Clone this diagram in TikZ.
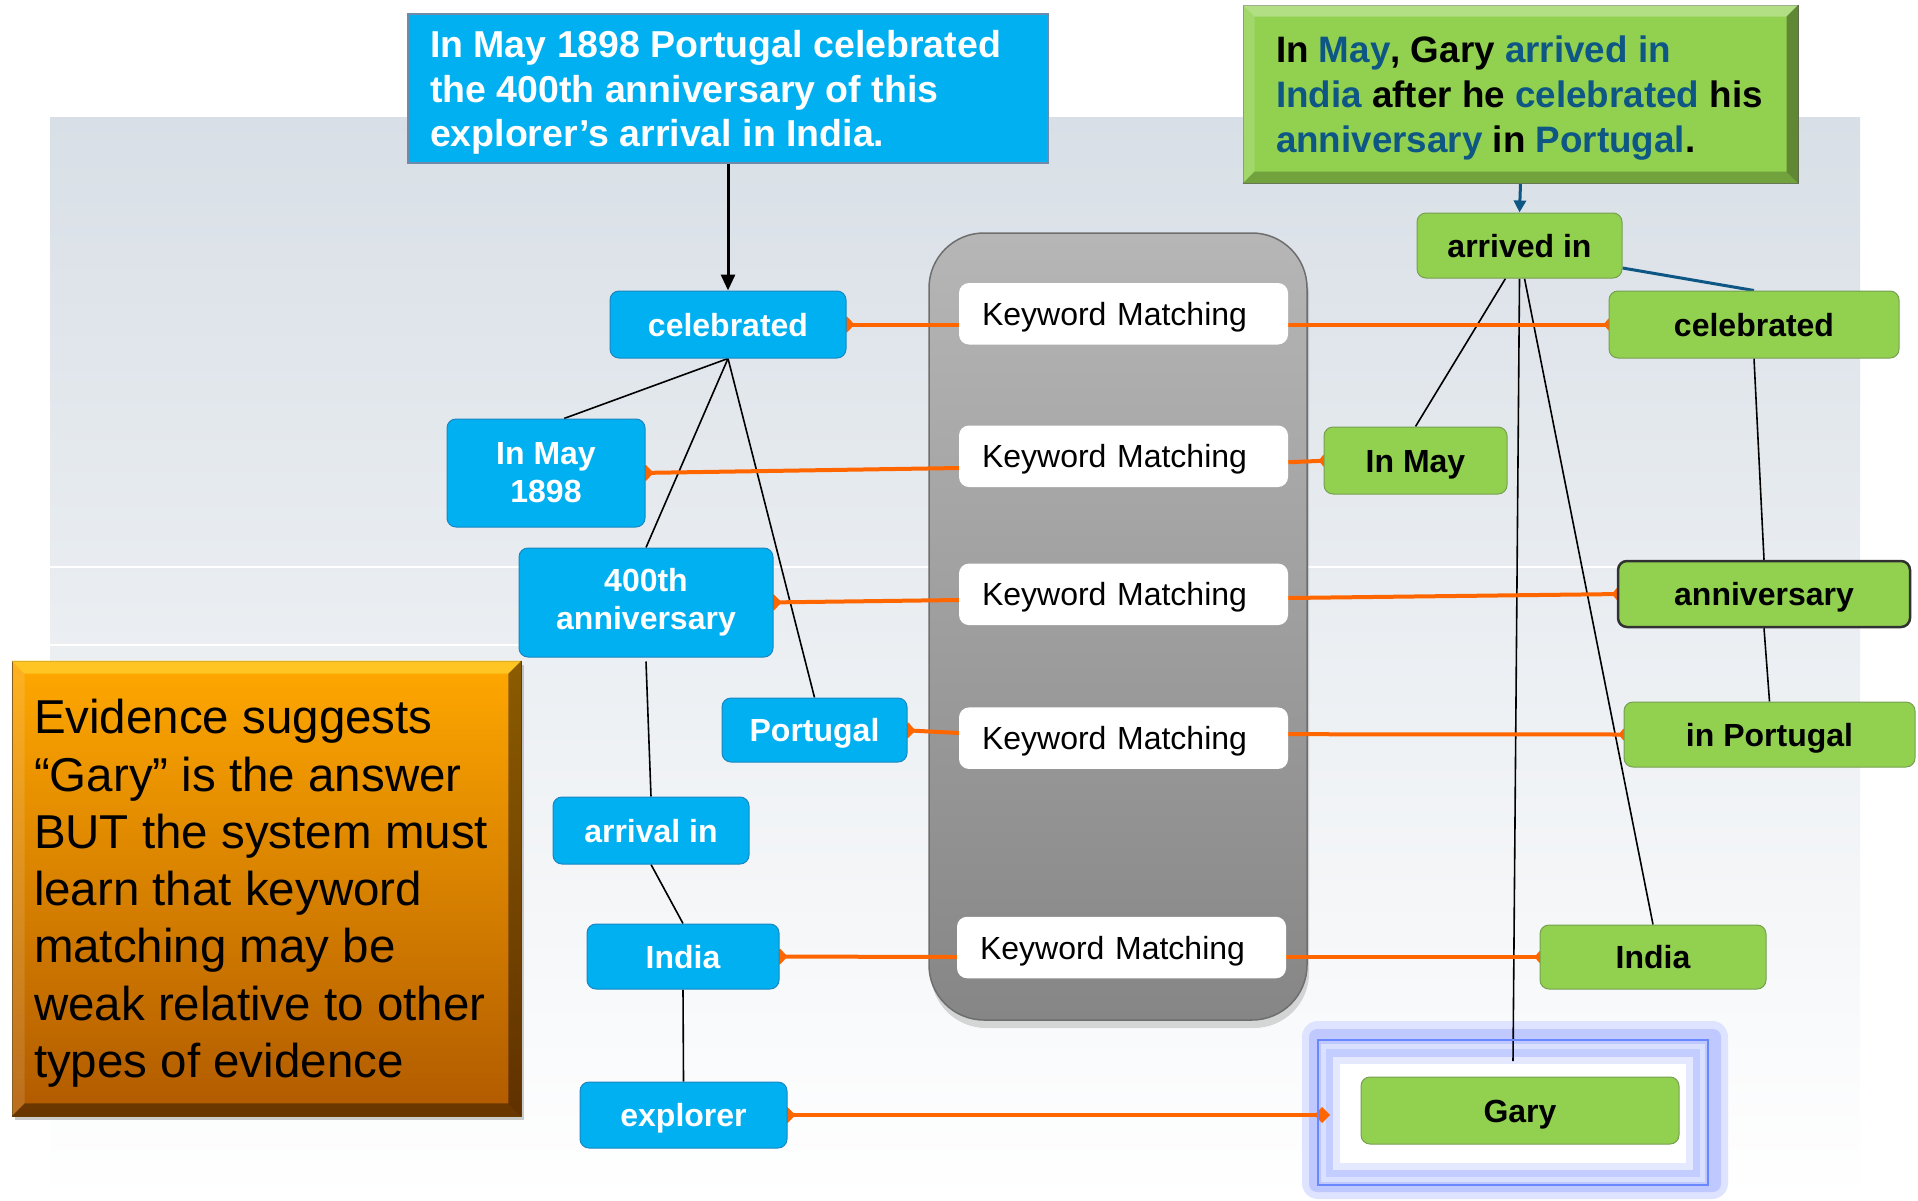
\documentclass[tikz,border=0pt]{standalone}
\usepackage{fontspec}
\setmainfont{Liberation Sans}
\usetikzlibrary{arrows.meta,calc,shadows}
\pgfdeclarelayer{back}
\pgfdeclarelayer{edges}
\pgfsetlayers{back,edges,main}
\definecolor{nodeblue}{RGB}{0,176,240}
\definecolor{nodeblueline}{RGB}{25,135,195}
\definecolor{nodegreen}{RGB}{146,208,80}
\definecolor{nodegreenline}{RGB}{118,160,80}
\definecolor{darkedge}{RGB}{50,50,50}
\definecolor{linkorange}{RGB}{255,102,0}
\definecolor{kwblue}{RGB}{14,86,132}
\definecolor{panelgray}{RGB}{216,223,230}
\definecolor{panelline}{RGB}{110,110,110}
\definecolor{topboxline}{RGB}{110,140,170}
\definecolor{gtopline}{RGB}{120,140,100}
\definecolor{glowA}{RGB}{222,227,255}
\definecolor{glowB}{RGB}{192,201,255}
\definecolor{glowC}{RGB}{218,224,255}
\definecolor{glowD}{RGB}{196,205,255}
\definecolor{glowE}{RGB}{228,233,255}
\definecolor{glowline}{RGB}{105,135,255}
\definecolor{orangetop}{RGB}{255,168,0}
\definecolor{orangebot}{RGB}{176,90,0}
\definecolor{orangeedge}{RGB}{120,70,0}
\definecolor{orangebevel}{RGB}{255,208,48}
\definecolor{graytop}{RGB}{182,182,182}
\definecolor{graybot}{RGB}{134,134,134}
\newcommand{\kwd}[1]{\textcolor{kwblue}{#1}}
\begin{document}
\begin{tikzpicture}[x=1pt,y=-1pt,
  nodebase/.style={inner sep=0pt, font=\bfseries\fontsize{32}{38}\selectfont},
  bnode/.style={nodebase, rounded corners=9pt, fill=nodeblue, draw=nodeblueline, line width=1pt, text=white},
  gnode/.style={nodebase, rounded corners=9pt, fill=nodegreen, draw=nodegreenline, line width=1pt, text=black},
  oneline/.style={text height=23pt, text depth=0pt},
  kmbox/.style={fill=white, rounded corners=10pt, inner xsep=23pt, inner ysep=0pt, text width=283pt, align=left, minimum height=61.5pt, text height=23pt, text depth=0pt, font=\fontsize{32}{38}\selectfont},
  treeline/.style={draw=black, line width=1.6pt},
  matchline/.style={draw=linkorange, line width=4pt},
  bluelink/.style={draw=kwblue, line width=3pt},
  leftmark/.style={{Diamond[length=15pt,width=16pt]}-},
  rightmark/.style={-{Diamond[length=10pt,width=12pt]}}
]
\useasboundingbox (0,0) rectangle (1918,1200);

% ---------- background ----------
\begin{pgfonlayer}{back}
  \fill[white] (0,0) rectangle (1918,1200);
  \shade[top color=panelgray, bottom color=white] (50,117) rectangle (1860,1200);
  \draw[white, line width=1.5pt] (50,567) -- (1860,567);
  \draw[white, line width=1.5pt] (50,645) -- (520,645);
  \node[minimum width=378pt, minimum height=787pt, rounded corners=55pt,
        top color=graytop, bottom color=graybot, draw=panelline, line width=1.5pt,
        drop shadow={shadow xshift=2pt, shadow yshift=-8pt, opacity=.3}] (panel) at (1118,626.5) {};
  % glow round the answer
  \fill[glowA, rounded corners=16pt] (1302,1021) rectangle (1728,1199);
  \fill[glowB, rounded corners=8pt] (1309,1029) rectangle (1721,1192);
  \fill[glowC] (1321,1044) rectangle (1705,1182);
  \fill[glowD] (1326,1049) rectangle (1700,1177);
  \fill[glowE] (1333,1057) rectangle (1693,1170);
  \fill[white] (1340,1064) rectangle (1686,1163);
\end{pgfonlayer}

% ---------- header boxes ----------
\node[fill=nodeblue, draw=topboxline, line width=1.5pt, inner xsep=22pt, inner ysep=0pt,
      minimum height=149pt, text height=116pt, text depth=0pt, text=white,
      font=\bfseries\fontsize{37.5}{44.5}\selectfont] (topB) at (728,88.5)
  {\vbox{\baselineskip=44.5pt
    \hbox to 596pt{In May 1898 Portugal celebrated\hfil}
    \hbox to 596pt{the 400th anniversary of this\hfil}
    \hbox to 596pt{explorer’s arrival in India.\hfil}}};

\node[fill=nodegreen, draw=gtopline, line width=1pt, inner xsep=33pt, inner ysep=0pt,
      minimum height=178pt, text height=117pt, text depth=0pt, text=black,
      font=\bfseries\fontsize{36.8}{45}\selectfont] (gtop) at (1520.5,94)
  {\vbox{\baselineskip=45pt
    \hbox to 489pt{In \kwd{May}, Gary \kwd{arrived in}\hfil}
    \hbox to 489pt{\kwd{India} after he \kwd{celebrated} his\hfil}
    \hbox to 489pt{\kwd{anniversary} in \kwd{Portugal}.\hfil}}};
\fill[white, opacity=.3] (gtop.north west) -- (gtop.north east) -- ($(gtop.north east)+(-12,12)$) -- ($(gtop.north west)+(12,12)$) -- cycle;
\fill[white, opacity=.15] (gtop.north west) -- ($(gtop.north west)+(12,12)$) -- ($(gtop.south west)+(12,-12)$) -- (gtop.south west) -- cycle;
\fill[black, opacity=.35] (gtop.north east) -- (gtop.south east) -- ($(gtop.south east)+(-12,-12)$) -- ($(gtop.north east)+(-12,12)$) -- cycle;
\fill[black, opacity=.22] (gtop.south west) -- (gtop.south east) -- ($(gtop.south east)+(-12,-12)$) -- ($(gtop.south west)+(12,-12)$) -- cycle;

% ---------- orange remark ----------
\node[top color=orangetop, bottom color=orangebot, draw=orangeedge, line width=.8pt,
      inner xsep=22pt, inner ysep=0pt, minimum width=509pt, minimum height=455pt,
      text height=378pt, text depth=0pt, text=black, font=\fontsize{47.5}{57.3}\selectfont,
      drop shadow={shadow xshift=3pt, shadow yshift=-4pt, opacity=.4}] (ora) at (266.5,888.5)
  {\vbox{\baselineskip=57.3pt
    \hbox to 465pt{Evidence suggests\hfil}
    \hbox to 465pt{“Gary” is the answer\hfil}
    \hbox to 465pt{BUT the system must\hfil}
    \hbox to 465pt{learn that keyword\hfil}
    \hbox to 465pt{matching may be\hfil}
    \hbox to 465pt{weak relative to other\hfil}
    \hbox to 465pt{types of evidence\hfil}}};
\fill[orangebevel, opacity=.75] (ora.north west) -- (ora.north east) -- ($(ora.north east)+(-13,13)$) -- ($(ora.north west)+(13,13)$) -- cycle;
\fill[white, opacity=.12] (ora.north west) -- ($(ora.north west)+(13,13)$) -- ($(ora.south west)+(13,-13)$) -- (ora.south west) -- cycle;
\fill[black, opacity=.45] (ora.north east) -- (ora.south east) -- ($(ora.south east)+(-13,-13)$) -- ($(ora.north east)+(-13,13)$) -- cycle;
\fill[black, opacity=.4] (ora.south west) -- (ora.south east) -- ($(ora.south east)+(-13,-13)$) -- ($(ora.south west)+(13,-13)$) -- cycle;

% ---------- question nodes (blue) ----------
\node[bnode,oneline,minimum width=236pt,minimum height=67pt] (celB) at (728,324.5) {celebrated};
\node[bnode,align=center,minimum width=198pt,minimum height=108pt] (inmayB) at (546,473) {In May\\1898};
\node[bnode,align=center,minimum width=254pt,minimum height=109pt] (annivB) at (646,602.5) {400th\\anniversary};
\node[bnode,oneline,minimum width=185pt,minimum height=64pt] (portB) at (814.5,730) {Portugal};
\node[bnode,oneline,minimum width=196pt,minimum height=67pt] (arrivalB) at (651,830.5) {arrival in};
\node[bnode,oneline,minimum width=192pt,minimum height=65pt] (indiaB) at (683,956.5) {India};
\node[bnode,oneline,minimum width=207pt,minimum height=66pt] (explB) at (683.5,1115) {explorer};

% ---------- passage nodes (green) ----------
\node[gnode,oneline,minimum width=205pt,minimum height=65pt] (arrG) at (1519.5,245.5) {arrived in};
\node[gnode,oneline,minimum width=290pt,minimum height=67pt] (celG) at (1754,324.5) {celebrated};
\node[gnode,oneline,minimum width=183pt,minimum height=67pt] (inmayG) at (1415.5,460.5) {In May};
\node[gnode,oneline,minimum width=292pt,minimum height=66pt,draw=darkedge,line width=2.5pt] (annivG) at (1764,594) {anniversary};
\node[gnode,oneline,minimum width=291pt,minimum height=65pt] (inportG) at (1769.5,734.5) {in Portugal};
\node[gnode,oneline,minimum width=226pt,minimum height=64pt] (indiaG) at (1653,957) {India};
\node[draw=glowline, line width=2pt, minimum width=390pt, minimum height=145pt, inner sep=0pt] (garyframe) at (1513,1112.5) {};
\node[gnode,oneline,minimum width=318pt,minimum height=67pt] (garyG) at (1520,1110.5) {Gary};

% ---------- keyword matching ----------
\node[kmbox] (km1) at (1123.5,313.75) {Keyword Matching};
\node[kmbox] (km2) at (1123.5,456.25) {Keyword Matching};
\node[kmbox] (km3) at (1123.5,594.3) {Keyword Matching};
\node[kmbox] (km4) at (1123.5,738.2) {Keyword Matching};
\node[kmbox] (km5) at (1121.5,947.5) {Keyword Matching};

% ---------- connectors ----------
\begin{pgfonlayer}{edges}
  \draw[treeline] (celB.south) -- ([xshift=18pt]inmayB.north);
  \draw[treeline] (celB.south) -- (annivB.north);
  \draw[treeline] (celB.south) -- (portB.north);
  \draw[treeline] ([yshift=-4pt]annivB.south) -- (arrivalB.north);
  \draw[treeline] (arrivalB.south) -- (indiaB.north);
  \draw[treeline] (indiaB.south) -- (explB.north);
  \draw[treeline] ([xshift=-14pt]arrG.south) -- (inmayG.north);
  \draw[treeline] (arrG.south) -- ([yshift=-22pt]garyframe.north);
  \draw[treeline] ([xshift=5pt]arrG.south) -- (indiaG.north);
  \draw[treeline] (celG.south) -- (annivG.north);
  \draw[treeline] (annivG.south) -- (inportG.north);
  \draw[bluelink] ([yshift=-22.5pt]arrG.east) -- (celG.north);
  \draw[draw=black, line width=3pt, -{Triangle[length=16pt,width=14pt]}] (topB.south) -- (celB.north);
  \draw[bluelink, -{Triangle[length=12pt,width=12pt]}] (gtop.south) -- (arrG.north);
  % keyword matching links
  \draw[matchline,leftmark] ([xshift=-7pt]celB.east) -- (celB.east -| km1.west);
  \draw[matchline,rightmark] (km1.east |- celG.west) -- ([xshift=5pt]celG.west);
  \draw[matchline,leftmark] ([xshift=-7pt]inmayB.east) -- ([yshift=-11.75pt]km2.west);
  \draw[matchline,rightmark] ([yshift=-6pt]km2.east) -- ([xshift=5pt]inmayG.west);
  \draw[matchline,leftmark] ([xshift=-7pt]annivB.east) -- ([yshift=-5.7pt]km3.west);
  \draw[matchline,rightmark] ([yshift=-3.7pt]km3.east) -- ([xshift=5pt]annivG.west);
  \draw[matchline,leftmark] ([xshift=-7pt]portB.east) -- ([yshift=5.2pt]km4.west);
  \draw[matchline,rightmark] ([yshift=4pt]km4.east) -- ([xshift=5pt]inportG.west);
  \draw[matchline,leftmark] ([xshift=-7pt]indiaB.east) -- ([yshift=-9.5pt]km5.west);
  \draw[matchline,rightmark] ([yshift=-9.5pt]km5.east) -- ([xshift=5pt]indiaG.west);
  \draw[matchline,{Diamond[length=16pt,width=16pt]}-{Diamond[length=16pt,width=16pt]}]
    ([xshift=-8pt]explB.east) -- ($(explB.east -| garyframe.west)+(13,0)$);
\end{pgfonlayer}
\end{tikzpicture}
\end{document}
